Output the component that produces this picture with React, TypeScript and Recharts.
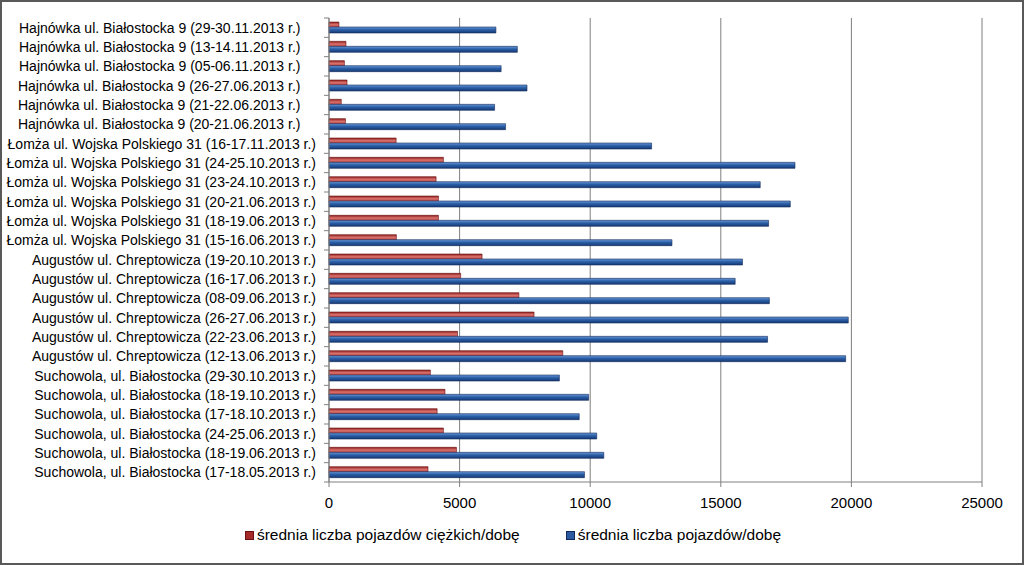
import React from 'react';
import { BarChart, Bar, CartesianGrid, XAxis, YAxis, Legend } from 'recharts';

// the Hajnówka labels carry trailing spaces in the source sheet
const categories = [
  'Hajnówka ul. Białostocka 9 (29-30.11.2013 r.)    ',
  'Hajnówka ul. Białostocka 9 (13-14.11.2013 r.)    ',
  'Hajnówka ul. Białostocka 9 (05-06.11.2013 r.)    ',
  'Hajnówka ul. Białostocka 9 (26-27.06.2013 r.)    ',
  'Hajnówka ul. Białostocka 9 (21-22.06.2013 r.)    ',
  'Hajnówka ul. Białostocka 9 (20-21.06.2013 r.)    ',
  'Łomża ul. Wojska Polskiego 31 (16-17.11.2013 r.)',
  'Łomża ul. Wojska Polskiego 31 (24-25.10.2013 r.)',
  'Łomża ul. Wojska Polskiego 31 (23-24.10.2013 r.)',
  'Łomża ul. Wojska Polskiego 31 (20-21.06.2013 r.)',
  'Łomża ul. Wojska Polskiego 31 (18-19.06.2013 r.)',
  'Łomża ul. Wojska Polskiego 31 (15-16.06.2013 r.)',
  'Augustów ul. Chreptowicza (19-20.10.2013 r.)',
  'Augustów ul. Chreptowicza (16-17.06.2013 r.)',
  'Augustów ul. Chreptowicza (08-09.06.2013 r.)',
  'Augustów ul. Chreptowicza (26-27.06.2013 r.)',
  'Augustów ul. Chreptowicza (22-23.06.2013 r.)',
  'Augustów ul. Chreptowicza (12-13.06.2013 r.)',
  'Suchowola, ul. Białostocka (29-30.10.2013 r.)',
  'Suchowola, ul. Białostocka (18-19.10.2013 r.)',
  'Suchowola, ul. Białostocka (17-18.10.2013 r.)',
  'Suchowola, ul. Białostocka (24-25.06.2013 r.)',
  'Suchowola, ul. Białostocka (18-19.06.2013 r.)',
  'Suchowola, ul. Białostocka (17-18.05.2013 r.)',
];

// średnia liczba pojazdów ciężkich/dobę
const heavyPerDay = [
  380, 650, 590, 690, 470, 630,
  2570, 4380, 4100, 4190, 4190, 2580,
  5860, 5040, 7270, 7850, 4920, 8950,
  3880, 4440, 4140, 4380, 4880, 3790,
];

// średnia liczba pojazdów/dobę
const allPerDay = [
  6390, 7210, 6590, 7580, 6340, 6760,
  12350, 17840, 16510, 17660, 16830, 13130,
  15830, 15550, 16860, 19880, 16790, 19780,
  8820, 9940, 9580, 10250, 10520, 9780,
];

const xTicks = [0, 5000, 10000, 15000, 20000, 25000];

const chartData = categories.map((name, i) => ({
  name,
  heavy: heavyPerDay[i],
  all: allPerDay[i],
}));

const FONT = '"Liberation Sans", Arial, sans-serif';

const CategoryTick = (props: any) => {
  const { x, y, payload, index } = props;
  const off = payload && payload.offset ? payload.offset : 0;
  return (
    <g>
      <line x1={x - 5} x2={x} y1={y - off} y2={y - off} stroke="#808080" />
      {index === categories.length - 1 && (
        <line x1={x - 5} x2={x} y1={y + off} y2={y + off} stroke="#808080" />
      )}
      <text
        x={x - 13}
        y={y}
        textAnchor="end"
        dominantBaseline="central"
        fill="#000"
        fontSize={14}
        fontFamily={FONT}
        style={{ whiteSpace: 'pre' }}
      >
        {payload.value}
      </text>
    </g>
  );
};

const LegendContent = (props: any) => {
  const { payload } = props;
  return (
    <div
      style={{
        display: 'flex',
        justifyContent: 'center',
        gap: 46,
        fontFamily: FONT,
        fontSize: 15.5,
        color: '#000',
        paddingLeft: 34,
      }}
    >
      {(payload || []).map((p: any) => (
        <div key={p.value} style={{ display: 'flex', alignItems: 'center' }}>
          <span
            style={{
              display: 'inline-block',
              width: 7,
              height: 7,
              background: p.dataKey === 'heavy' ? '#a52a2a' : '#2c5aa0',
              border: '1px solid ' + (p.dataKey === 'heavy' ? '#6d1010' : '#10295a'),
              marginRight: 3,
            }}
          />
          <span>{p.value}</span>
        </div>
      ))}
    </div>
  );
};

export default function App() {
  return (
    <div
      style={{
        position: 'absolute',
        left: 0,
        top: 0,
        width: 1024,
        height: 565,
        border: '2px solid #595959',
        boxSizing: 'border-box',
        background: '#fff',
      }}
    >
      <BarChart
        width={1020}
        height={561}
        data={chartData}
        layout="vertical"
        margin={{ top: 16, right: 40, left: 8, bottom: 17 }}
        barSize={6}
        barGap={-1}
      >
        <defs>
          <linearGradient id="gradHeavy" x1="0" y1="0" x2="0" y2="1">
            <stop offset="0%" stopColor="#8e1f1c" />
            <stop offset="45%" stopColor="#d9726e" />
            <stop offset="100%" stopColor="#b0312d" />
          </linearGradient>
          <linearGradient id="gradAll" x1="0" y1="0" x2="0" y2="1">
            <stop offset="0%" stopColor="#6a9ad6" />
            <stop offset="45%" stopColor="#2b5ea8" />
            <stop offset="100%" stopColor="#163a72" />
          </linearGradient>
        </defs>
        <CartesianGrid horizontal={false} stroke="#7f7f7f" />
        <XAxis
          type="number"
          domain={[0, 25000]}
          ticks={xTicks}
          interval={0}
          height={44}
          tickSize={5}
          tickMargin={10}
          stroke="#808080"
          tick={{ fill: '#000', fontSize: 15, fontFamily: FONT }}
        />
        <YAxis
          type="category"
          dataKey="name"
          width={319}
          interval={0}
          tickLine={false}
          tickSize={0}
          tickMargin={0}
          stroke="#808080"
          tick={<CategoryTick />}
        />
        <Legend verticalAlign="bottom" height={20} content={<LegendContent />} />
        <Bar
          dataKey="heavy"
          name="średnia liczba pojazdów ciężkich/dobę"
          fill="url(#gradHeavy)"
          stroke="#6d1010"
          strokeWidth={0.6}
          isAnimationActive={false}
        />
        <Bar
          dataKey="all"
          name="średnia liczba pojazdów/dobę"
          fill="url(#gradAll)"
          stroke="#10295a"
          strokeWidth={0.6}
          isAnimationActive={false}
        />
      </BarChart>
    </div>
  );
}
